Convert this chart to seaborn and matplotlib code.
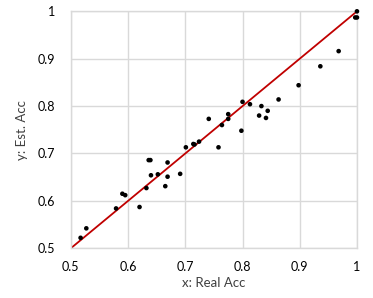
import numpy as np
import pandas as pd
import matplotlib
matplotlib.use('Agg')
import matplotlib.pyplot as plt
import seaborn as sns
from matplotlib.ticker import FuncFormatter

# Real vs estimated accuracy
real_acc = [1.000, 0.997, 1.000, 0.968, 0.936, 0.898, 0.863, 0.800, 0.813, 0.833,
            0.844, 0.829, 0.841, 0.775, 0.775, 0.764, 0.798, 0.741, 0.758, 0.701,
            0.714, 0.716, 0.724, 0.636, 0.639, 0.669, 0.640, 0.652, 0.669, 0.691,
            0.665, 0.632, 0.590, 0.595, 0.579, 0.620, 0.527, 0.517]
est_acc = [1.000, 0.987, 0.987, 0.916, 0.884, 0.844, 0.814, 0.809, 0.804, 0.800,
           0.790, 0.780, 0.775, 0.783, 0.773, 0.760, 0.748, 0.773, 0.713, 0.713,
           0.720, 0.719, 0.725, 0.686, 0.686, 0.681, 0.654, 0.656, 0.651, 0.657,
           0.631, 0.627, 0.615, 0.612, 0.584, 0.587, 0.542, 0.522]
ideal = [0.5, 1.0]
ticks = [0.5, 0.6, 0.7, 0.8, 0.9, 1.0]

df = pd.DataFrame({'real': real_acc, 'est': est_acc})

sns.set_style('white')
plt.rcParams['font.family'] = ['Lato', 'DejaVu Sans']

fig = plt.figure(figsize=(3.73, 2.98), dpi=100)
ax = fig.add_axes([0.190, 0.167, 0.767, 0.795])

sns.lineplot(x=ideal, y=ideal, color='#C00000', linewidth=1.3, ax=ax, zorder=2)
sns.scatterplot(data=df, x='real', y='est', color='black', s=11, edgecolor='none',
                ax=ax, zorder=3, clip_on=False)

ax.set_xlim(0.5, 1.0)
ax.set_ylim(0.5, 1.0)
ax.set_xticks(ticks)
ax.set_yticks(ticks)
fmt = FuncFormatter(lambda v, p: '%g' % v)
ax.xaxis.set_major_formatter(fmt)
ax.yaxis.set_major_formatter(fmt)
ax.grid(True, color='#d9d9d9', linewidth=1)
ax.set_axisbelow(True)
for side in ['top', 'right', 'left', 'bottom']:
    ax.spines[side].set_color('#d9d9d9')
    ax.spines[side].set_linewidth(1)
ax.tick_params(axis='both', length=0, labelsize=9, colors='#404040')
ax.tick_params(axis='x', pad=9)
ax.tick_params(axis='y', pad=11)
for lbl in ax.get_xticklabels() + ax.get_yticklabels():
    lbl.set_color('black')
ax.set_xlabel('x: Real Acc', fontsize=9.5, color='#404040', labelpad=3)
ax.set_ylabel('y: Est. Acc', fontsize=9.5, color='#404040', labelpad=7)

fig.savefig('out.png', dpi=100)
